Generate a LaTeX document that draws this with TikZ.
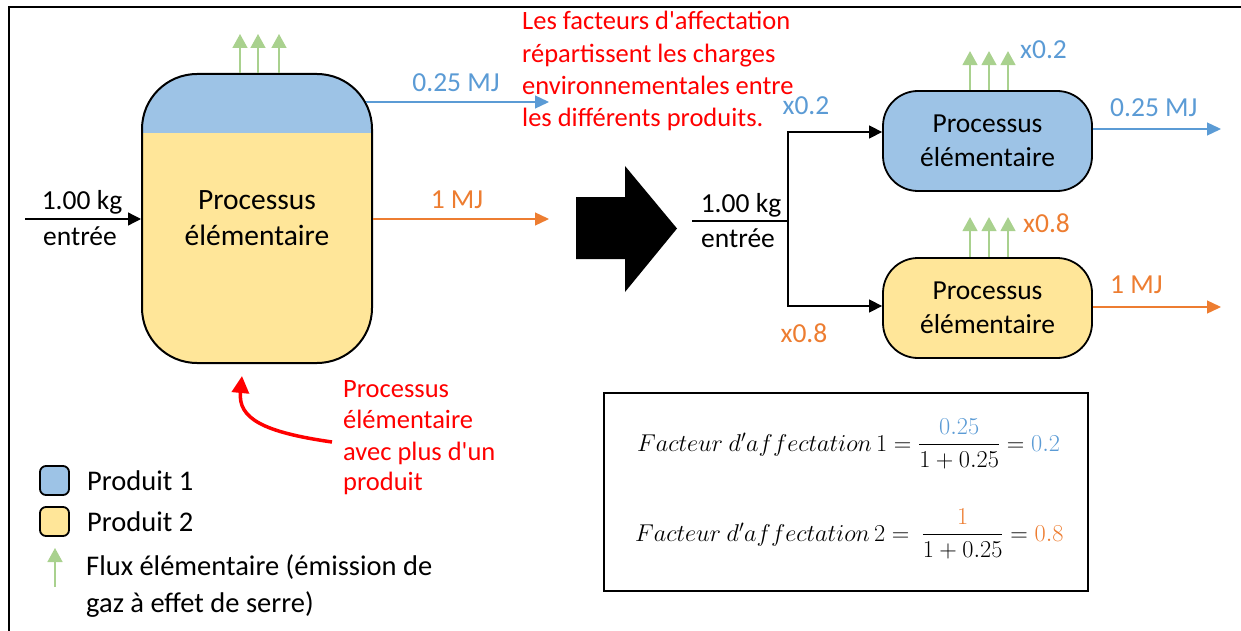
\RequirePackage{fix-cm}
\documentclass[tikz,border=0pt]{standalone}
\usepackage{amsmath}
\usepackage{fontspec}
\setmainfont{Carlito}[Ligatures=TeXOff]
\usetikzlibrary{arrows.meta}
\definecolor{pblue}{HTML}{9DC3E6}
\definecolor{pyellow}{HTML}{FFE699}
\definecolor{pgreen}{HTML}{A9D18E}
\definecolor{tblue}{HTML}{5B9BD5}
\definecolor{torange}{HTML}{ED7D31}
\definecolor{tred}{HTML}{FF0000}
\tikzset{
  txt/.style={inner sep=0pt, font=\fontsize{27.5}{33.5}\selectfont},
  legtxt/.style={inner sep=0pt, font=\fontsize{28.5}{34}\selectfont},
  redtxt/.style={txt, text=tred, align=left, font=\fontsize{26.5}{32.3}\selectfont},
  bigbox/.style={draw, line width=2pt, rounded corners=55pt, minimum width=230pt, minimum height=289pt,
    align=center, font=\fontsize{29.5}{36}\selectfont,
    path picture={\fill[pyellow, sharp corners] (path picture bounding box.south west) rectangle (path picture bounding box.north east);
      \fill[pblue, sharp corners] (path picture bounding box.north west) rectangle ([yshift=-59pt]path picture bounding box.north east);}},
  procbox/.style={draw, line width=1.8pt, rounded corners=35pt, minimum width=209pt, minimum height=100pt,
    align=center, font=\fontsize{27.5}{34}\selectfont},
  legbox/.style={draw, line width=1.8pt, rounded corners=6pt, minimum size=29pt, inner sep=0pt},
  garrow/.style={draw=pgreen, line width=1.5pt, -{Triangle[length=14pt,width=15pt]}},
  blackarrow/.style={draw=black, line width=1.3pt, -{Triangle[length=13pt,width=13pt]}},
  bluearrow/.style={draw=tblue, line width=1.3pt, -{Triangle[length=14pt,width=13pt]}},
  orangearrow/.style={draw=torange, line width=1.3pt, -{Triangle[length=14pt,width=13pt]}},
  redarrow/.style={draw=tred, line width=3.5pt, -{Triangle[length=17pt,width=17pt]}},
  mathtxt/.style={inner sep=0pt, anchor=base west, font=\fontsize{24.3}{30}\selectfont},
}
\begin{document}
\begin{tikzpicture}[x=1pt,y=-1pt]
\useasboundingbox (0,0) rectangle (1241,631);
\clip (0,0) rectangle (1241,631);
% outer frame
\draw[line width=1.5pt] (9,650) -- (9,7) -- (1260,7);

% big process
\node[bigbox] (big) at (257,218.5) {Processus\\élémentaire};
\foreach \dx in {-17,1,22} \draw[garrow] ([xshift=\dx pt]big.north) -- ++(0,-39);
\coordinate (in1) at (25,219);
\draw[blackarrow] (in1) -- (in1 -| big.west);
\node[txt, anchor=base] (kg1) at (82,209) {1.00 kg};
\node[txt, anchor=base] (en1) at (80,245) {entrée};
\coordinate (o1) at (549,102);
\draw[bluearrow, shorten <=-7pt] (big.east |- o1) -- (o1);
\node[txt, anchor=base, text=tblue] (mj1) at (456,92) {0.25 MJ};
\coordinate (o2) at (549,219);
\draw[orangearrow] (big.east |- o2) -- (o2);
\node[txt, anchor=base, text=torange] (mj2) at (457,208) {1 MJ};

% red text top
\node[redtxt, anchor=base west] (r1) at (522,30) {Les facteurs d'affectation};
\node[redtxt, anchor=base west] (r2) at (522,63) {répartissent les charges};
\node[redtxt, anchor=base west] (r3) at (522,95) {environnementales entre};
\node[redtxt, anchor=base west] (r4) at (522,127) {les différents produits.};

% big black arrow
\fill[black] (576,197) -- (625,197) -- (625,166) -- (677,228.5) -- (625,292) -- (625,259) -- (576,259) -- cycle;

% right side
\node[procbox, fill=pblue] (p1) at (987.5,141) {Processus\\élémentaire};
\node[procbox, fill=pyellow] (p2) at (987.5,308) {Processus\\élémentaire};
\coordinate (in2) at (692,221);
\coordinate (j) at (788,221);
\draw[line width=1.3pt] (in2) -- (j);
\draw[blackarrow] (j) |- ([yshift=9pt]p1.west);
\draw[blackarrow] (j) |- ([yshift=2pt]p2.west);
\node[txt, anchor=base] (kg2) at (741,212) {1.00 kg};
\node[txt, anchor=base] (en2) at (738,247) {entrée};
\node[txt, anchor=base, text=tblue] (x1) at (806,115) {x0.2};
\node[txt, anchor=base, text=torange] (x2) at (804,342) {x0.8};
\foreach \dx in {-17.5,1.5,20.5} \draw[garrow] ([xshift=\dx pt]p1.north) -- ++(0,-39);
\foreach \dx in {-17.5,1.5,20.5} \draw[garrow] ([xshift=\dx pt]p2.north) -- ++(0,-40);
\node[txt, anchor=base west, text=tblue] (x3) at (1020,59) {x0.2};
\node[txt, anchor=base west, text=torange] (x4) at (1023,232) {x0.8};
\coordinate (o3) at (1221,129);
\draw[bluearrow] (p1.east |- o3) -- (o3);
\coordinate (o4) at (1221,307);
\draw[orangearrow] (p2.east |- o4) -- (o4);
\node[txt, anchor=base west, text=tblue] (mj3) at (1110,117) {0.25 MJ};
\node[txt, anchor=base west, text=torange] (mj4) at (1110,293) {1 MJ};

% red annotation
\node[redtxt, anchor=base west] (a1) at (343,397) {Processus};
\node[redtxt, anchor=base west] (a2) at (343,428) {élémentaire};
\node[redtxt, anchor=base west] (a3) at (343,460) {avec plus d'un};
\node[redtxt, anchor=base west] (a4) at (343,490) {produit};
\coordinate (rs) at (332,442);
\coordinate (re) at (242,376);
\draw[redarrow] (rs) .. controls (262,432) and (238,418) .. (re);

% legend
\node[legbox, fill=pblue] (l1) at (54.5,480.5) {};
\node[legbox, fill=pyellow] (l2) at (54.5,521.5) {};
\coordinate (lg1) at (55,587);
\coordinate (lg2) at (55,548);
\draw[garrow] (lg1) -- (lg2);
\node[legtxt, anchor=base west] (t1) at (87,490) {Produit 1};
\node[legtxt, anchor=base west] (t2) at (87,531) {Produit 2};
\node[legtxt, anchor=base west] (t3) at (86,575) {Flux élémentaire (émission de};
\node[legtxt, anchor=base west] (t4) at (86,612) {gaz à effet de serre)};

% formula box
\node[draw, line width=2pt, minimum width=484pt, minimum height=198pt, inner sep=0pt] (fbox) at (846,492) {};
\node[mathtxt] (f1) at (637,451)
  {$Facteur\ d'affectation\,1=\dfrac{\color{tblue}0.25}{1+0.25}={\color{tblue}0.2}$};
\node[mathtxt] (f2) at (635,541)
  {$Facteur\ d'affectation\,2=\ \dfrac{\color{torange}1}{1+0.25}={\color{torange}0.8}$};
\end{tikzpicture}
\end{document}
